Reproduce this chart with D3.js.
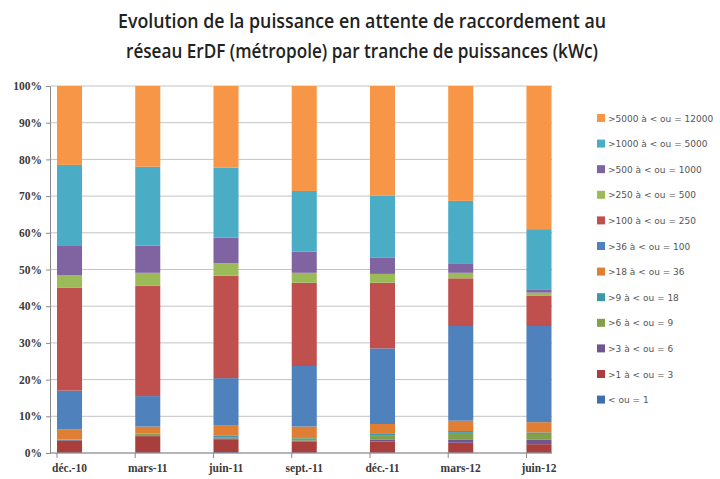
<!DOCTYPE html>
<html>
<head>
<meta charset="utf-8">
<script src="https://cdn.jsdelivr.net/npm/d3@7"></script>
<style>
  body { margin: 0; background: #fff; }
</style>
</head>
<body>
<script>
// categories (x axis)
const periods = ["déc.-10", "mars-11", "juin-11", "sept.-11", "déc.-11", "mars-12", "juin-12"];

// series, bottom of the stack first
const seriesNames = [
  "< ou = 1", ">1 à < ou = 3", ">3 à < ou = 6", ">6 à < ou = 9", ">9 à < ou = 18",
  ">18 à < ou = 36", ">36 à < ou = 100", ">100 à < ou = 250", ">250 à < ou = 500",
  ">500 à < ou = 1000", ">1000 à < ou = 5000", ">5000 à < ou = 12000"
];
const seriesColors = [
  "#3F6FAF", "#A83F3C", "#70558F", "#80A04A", "#3A97AE", "#E07F33",
  "#4F81BD", "#C0504D", "#9BBB59", "#8064A2", "#4BACC6", "#F79646"
];

// share (%) of each series per period
const le1      = [0.1, 0.1, 0.2, 0.1, 0.1, 0.1, 0.1];
const s1to3    = [3.2, 4.5, 3.4, 3.0, 3.0, 2.7, 2.3];
const s3to6    = [0.2, 0.2, 0.4, 0.3, 0.6, 0.9, 1.2];
const s6to9    = [0.1, 0.4, 0.3, 0.6, 1.0, 1.8, 1.6];
const s9to18   = [0.1, 0.1, 0.5, 0.3, 0.5, 0.5, 0.4];
const s18to36  = [2.7, 1.9, 2.8, 2.9, 2.7, 2.8, 2.8];
const s36to100 = [10.6, 8.3, 12.8, 16.5, 20.6, 25.8, 26.2];
const s100to250 = [28.0, 30.1, 27.9, 22.7, 17.9, 13.0, 8.2];
const s250to500 = [3.5, 3.5, 3.4, 2.7, 2.4, 1.5, 0.9];
const s500to1000 = [7.9, 7.4, 7.0, 5.8, 4.5, 2.6, 0.9];
const s1000to5000 = [22.1, 21.5, 19.1, 16.5, 16.8, 17.0, 16.4];
const s5000to12000 = [21.5, 22.0, 22.2, 28.6, 29.9, 31.3, 39.0];

const yTicks = [0, 10, 20, 30, 40, 50, 60, 70, 80, 90, 100];

const seriesValues = [le1, s1to3, s3to6, s6to9, s9to18, s18to36, s36to100,
  s100to250, s250to500, s500to1000, s1000to5000, s5000to12000];

const W = 720, H = 479;
const svg = d3.select("body").append("svg")
  .attr("width", W)
  .attr("height", H);

// title
const titleLines = [
  {t: "Evolution de la puissance en attente de raccordement au", y: 28, len: 488},
  {t: "réseau ErDF (métropole) par tranche de puissances (kWc)", y: 58, len: 472}
];
titleLines.forEach(l =>
  svg.append("text")
    .attr("x", 362)
    .attr("y", l.y)
    .attr("text-anchor", "middle")
    .attr("font-family", "'Open Sans', sans-serif")
    .attr("font-size", 19)
    .attr("font-weight", 600)
    .attr("fill", "#222")
    .attr("textLength", l.len)
    .attr("lengthAdjust", "spacingAndGlyphs")
    .text(l.t)
);

// scales
const plotLeft = 50, plotRight = 552;
let x = d3.scaleBand()
  .domain(periods)
  .range([57, 551.5])
  .paddingInner(0.68)
  .paddingOuter(0)
  .align(0);

let y = d3.scaleLinear()
  .domain([0, 100])
  .range([453, 86]);

// gridlines
svg.append("g")
  .selectAll("line")
  .data(yTicks)
  .join("line")
  .attr("x1", plotLeft)
  .attr("x2", plotRight)
  .attr("y1", d => y(d))
  .attr("y2", d => y(d))
  .attr("stroke", "#c4c4c4")
  .attr("stroke-width", 1);

// stacked data
let rows = periods.map((p, i) => {
  let r = {period: p};
  seriesNames.forEach((s, k) => r[s] = seriesValues[k][i]);
  return r;
});
let stacked = d3.stack().keys(seriesNames)(rows);

svg.append("g")
  .selectAll("g")
  .data(stacked)
  .join("g")
  .attr("fill", (d, k) => seriesColors[k])
  .selectAll("rect")
  .data(d => d)
  .join("rect")
  .attr("x", d => x(d.data.period))
  .attr("width", x.bandwidth())
  .attr("y", d => y(d[1]))
  .attr("height", d => y(d[0]) - y(d[1]));

// y axis
let yAxis = d3.axisLeft(y)
  .tickValues(yTicks)
  .tickFormat(d => d + "%")
  .tickSize(4)
  .tickPadding(4);
let gy = svg.append("g")
  .attr("transform", `translate(${plotLeft},0)`)
  .call(yAxis);
gy.select(".domain").attr("stroke", "#8a8a8a");
gy.selectAll(".tick line").attr("stroke", "#8a8a8a");
gy.selectAll(".tick text")
  .attr("font-family", "'Liberation Serif', serif")
  .attr("font-size", 11.5)
  .attr("font-weight", "bold")
  .attr("fill", "#3a3a3a");

// x axis line, ticks and labels
svg.append("line")
  .attr("x1", plotLeft)
  .attr("x2", plotRight)
  .attr("y1", y(0))
  .attr("y2", y(0))
  .attr("stroke", "#8a8a8a");

svg.append("g")
  .selectAll("line")
  .data(periods)
  .join("line")
  .attr("x1", d => x(d))
  .attr("x2", d => x(d))
  .attr("y1", y(0))
  .attr("y2", y(0) + 5)
  .attr("stroke", "#8a8a8a");

svg.append("g")
  .selectAll("text")
  .data(periods)
  .join("text")
  .attr("x", d => x(d) + x.bandwidth() / 2)
  .attr("y", 472)
  .attr("text-anchor", "middle")
  .attr("font-family", "'Liberation Serif', serif")
  .attr("font-size", 11.5)
  .attr("font-weight", "bold")
  .attr("fill", "#3a3a3a")
  .text(d => d);

// legend (top series first)
let legendItems = seriesNames.map((s, k) => ({name: s, color: seriesColors[k]})).reverse();
let legend = svg.append("g")
  .selectAll("g")
  .data(legendItems)
  .join("g")
  .attr("transform", (d, i) => `translate(597,${118 + i * 25.6})`);

legend.append("rect")
  .attr("x", 0)
  .attr("y", -4)
  .attr("width", 8)
  .attr("height", 8)
  .attr("fill", d => d.color);

legend.append("text")
  .attr("x", 11)
  .attr("y", 3.5)
  .attr("font-family", "'DejaVu Sans', sans-serif")
  .attr("font-size", 9)
  .attr("fill", "#555")
  .text(d => d.name);
</script>
</body>
</html>
